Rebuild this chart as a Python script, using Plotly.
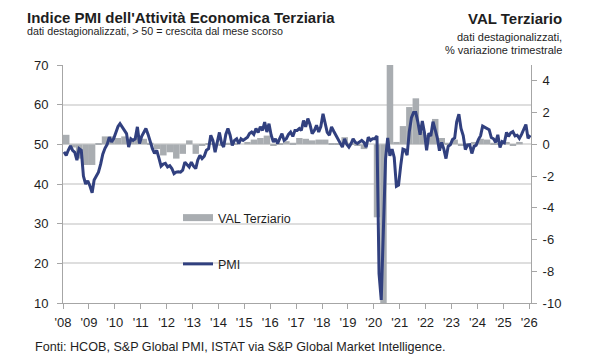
import pandas as pd
import plotly.graph_objects as go

# ---------------- data ----------------
pmi_first_month = "2008-01"
pmi_values = [
    48.1, 47.2, 48.5, 49.6, 48.5, 48.0, 46.0, 48.9, 48.5, 42.0, 40.0, 40.8,   # 2008
    39.5, 37.8, 41.0, 42.2, 43.0, 45.0, 47.5, 49.0, 50.0, 51.8, 50.6, 51.4,   # 2009
    53.1, 54.5, 55.2, 54.4, 53.5, 52.7, 49.3, 51.4, 51.0, 51.4, 54.4, 50.2,   # 2010
    52.0, 53.0, 54.0, 52.5, 50.5, 48.9, 47.7, 48.5, 46.5, 44.5, 45.0, 45.2,   # 2011
    44.3, 44.6, 43.9, 42.6, 43.0, 43.1, 43.0, 43.5, 45.5, 45.0, 44.3, 45.5,   # 2012
    44.5, 43.9, 46.0, 47.2, 46.4, 47.0, 48.5, 48.9, 52.3, 51.0, 48.0, 50.5,   # 2013
    53.0, 50.2, 49.3, 52.5, 54.0, 52.3, 49.7, 51.0, 51.4, 50.2, 51.4, 51.0,   # 2014
    51.4, 51.8, 52.7, 53.1, 52.5, 54.0, 53.0, 54.4, 53.5, 55.6, 53.1, 55.2,   # 2015
    52.3, 50.6, 51.4, 50.2, 51.5, 52.7, 51.0, 51.4, 52.5, 53.1, 52.0, 53.5,   # 2016
    53.5, 54.0, 53.5, 56.0, 54.4, 56.5, 55.0, 52.7, 53.5, 54.8, 53.1, 54.5,   # 2017
    57.7, 54.8, 53.0, 52.3, 54.4, 53.3, 52.3, 51.0, 50.2, 49.3, 51.4, 50.0,   # 2018
    49.3, 50.2, 51.4, 50.5, 50.2, 50.5, 51.0, 50.5, 49.3, 51.8, 51.0, 51.4,   # 2019
    51.4, 52.1, 17.4, 10.8, 28.9, 46.4, 51.6, 47.1, 48.8, 46.7, 39.4, 39.7,   # 2020
    44.7, 48.8, 48.6, 47.3, 53.1, 56.7, 58.0, 58.0, 55.5, 52.4, 55.9, 53.0,   # 2021
    48.5, 52.8, 52.1, 55.7, 53.7, 51.6, 48.4, 50.5, 48.8, 46.4, 49.5, 49.9,   # 2022
    51.2, 51.6, 55.7, 57.6, 54.0, 52.2, 48.7, 49.8, 49.9, 47.7, 49.5, 49.8,   # 2023
    51.2, 52.2, 54.6, 54.3, 54.2, 53.7, 51.7, 51.4, 50.5, 52.4, 49.2, 50.7,   # 2024
    50.4, 53.0, 52.0, 52.9, 53.2, 52.1, 52.3, 51.5, 52.5, 54.0, 55.0, 51.5,   # 2025
    52.3,                                                                     # 2026
]

val_first_quarter = "2008Q1"
val_values = [
    0.6, -0.2, -0.9, -1.3,     # 2008
    -1.3, 0.05, 0.5, 0.5,      # 2009
    0.4, 0.5, 0.25, 0.45,      # 2010
    0.35, 0.1, -0.3, -0.7,     # 2011
    -0.5, -0.9, -0.6, 0.25,    # 2012
    -0.6, -0.1, 0.05, 0.1,     # 2013
    -0.05, 0.1, 0.05, 0.0,     # 2014
    0.15, 0.3, 0.4, 0.55,      # 2015
    -0.1, 0.05, 0.2, 0.1,      # 2016
    0.4, 0.35, 0.25, 0.3,      # 2017
    0.3, 0.05, 0.05, 0.45,     # 2018
    0.1, -0.1, -0.3, 0.0,      # 2019
    -4.6, -12.0, 13.0, 0.15,   # 2020
    1.15, 2.35, 2.9, 0.8,      # 2021
    0.6, 1.6, 0.4, 0.1,        # 2022
    0.3, -0.1, 0.05, 0.15,     # 2023
    0.35, 0.3, 0.1, 0.05,      # 2024
    0.15, -0.05, 0.15,         # 2025
]

year_ticks = list(range(2008, 2027))
year_labels = ["'08", "'09", "'10", "'11", "'12", "'13", "'14", "'15", "'16", "'17",
               "'18", "'19", "'20", "'21", "'22", "'23", "'24", "'25", "'26"]
left_ticks = [10, 20, 30, 40, 50, 60, 70]
right_ticks = [-10, -8, -6, -4, -2, 0, 2, 4]
right_labels = ["-10", "-8", "-6", "-4", "-2", "0", "2", "4"]

# ---------------- styling ----------------
FONT = "Liberation Sans, Arial, Helvetica, sans-serif"
TXT = "#1e1e1e"
BAR_C = "#a9adb1"
LINE_C = "#31407f"
AXIS_C = "#a6a6a6"
GRID_C = "#dedede"

# positions
months = pd.period_range(pmi_first_month, periods=len(pmi_values), freq="M")
pmi_x = months.to_timestamp() + pd.Timedelta(days=14)
quarters = pd.period_range(val_first_quarter, periods=len(val_values), freq="Q")
q_start = quarters.start_time
q_width = [((q + 1).start_time - q.start_time).total_seconds() * 1000 for q in quarters]

fig = go.Figure()
fig.add_trace(go.Bar(
    x=q_start, y=val_values, width=q_width, offset=0,
    marker=dict(color=BAR_C, line=dict(width=0)),
    yaxis="y", showlegend=False, legendgroup="val", name="VAL Terziario",
))
fig.add_trace(go.Scatter(
    x=[None], y=[None], mode="lines", name="VAL Terziario",
    line=dict(color=BAR_C, width=7), yaxis="y", legendgroup="val",
))
fig.add_trace(go.Scatter(
    x=pmi_x, y=pmi_values, mode="lines", name="PMI",
    line=dict(color=LINE_C, width=3), yaxis="y2", legendgroup="pmi",
))

def px_x(p):
    return (p - 63) / 468.0

def px_y(p):
    return (303 - p) / 238.0

ann = []
ann.append(dict(text="<b>Indice PMI dell'Attività Economica Terziaria</b>", x=px_x(25), y=px_y(17),
                xanchor="left", yanchor="middle", font=dict(size=15, color=TXT)))
ann.append(dict(text="dati destagionalizzati, > 50 = crescita dal mese scorso", x=px_x(25), y=px_y(31),
                xanchor="left", yanchor="middle", font=dict(size=10.7, color=TXT)))
ann.append(dict(text="<b>VAL Terziario</b>", x=px_x(564), y=px_y(18),
                xanchor="right", yanchor="middle", font=dict(size=15, color=TXT)))
ann.append(dict(text="dati destagionalizzati,", x=px_x(564), y=px_y(37),
                xanchor="right", yanchor="middle", font=dict(size=11, color=TXT)))
ann.append(dict(text="% variazione trimestrale", x=px_x(564), y=px_y(50),
                xanchor="right", yanchor="middle", font=dict(size=11, color=TXT)))
ann.append(dict(text="Fonti: HCOB, S&P Global PMI, ISTAT via S&P Global Market Intelligence.",
                x=px_x(33), y=px_y(347), xanchor="left", yanchor="middle",
                font=dict(size=12.6, color=TXT)))
for a in ann:
    a.update(xref="paper", yref="paper", showarrow=False)

fig.update_layout(
    width=600, height=360,
    margin=dict(l=63, r=69, t=65, b=57),
    paper_bgcolor="white", plot_bgcolor="white",
    font=dict(family=FONT, color=TXT, size=12),
    annotations=ann,
    showlegend=True,
    legend=dict(x=px_x(178), y=px_y(203), xanchor="left", yanchor="top",
                bgcolor="rgba(0,0,0,0)", font=dict(size=12.5, color=TXT),
                tracegroupgap=27, traceorder="grouped", itemwidth=30),
    xaxis=dict(
        type="date", range=["2008-01-01", "2026-01-26"],
        tickvals=[f"{y}-01-01" for y in year_ticks], ticktext=year_labels,
        ticks="outside", ticklen=5, tickcolor=AXIS_C, ticklabelstandoff=2,
        showline=True, linecolor=AXIS_C, linewidth=1,
        showgrid=False, zeroline=False, tickfont=dict(size=13, color=TXT),
    ),
    yaxis=dict(
        side="right", range=[-10, 5], tickvals=right_ticks, ticktext=right_labels,
        ticks="outside", ticklen=5, tickcolor=AXIS_C, ticklabelstandoff=3,
        showline=True, linecolor=AXIS_C, linewidth=1,
        showgrid=False, zeroline=False, tickfont=dict(size=13, color=TXT),
    ),
    yaxis2=dict(
        overlaying="y", side="left", range=[10, 70], tickvals=left_ticks,
        ticks="outside", ticklen=5, tickcolor=AXIS_C, ticklabelstandoff=6,
        showline=True, linecolor=AXIS_C, linewidth=1,
        showgrid=True, gridcolor=GRID_C, gridwidth=1.5, zeroline=False,
        tickfont=dict(size=13, color=TXT),
    ),
)

fig.write_html("out.html", config={"displayModeBar": False},
               post_script="document.body.style.margin='0';")
